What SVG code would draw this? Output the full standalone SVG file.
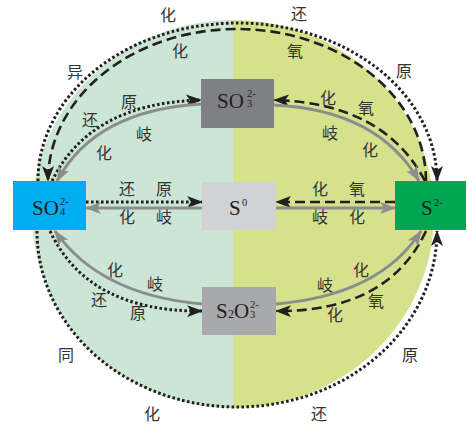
<svg xmlns="http://www.w3.org/2000/svg" width="467" height="427" viewBox="0 0 467 427">
<style>
.lbl{font-family:"Noto Sans CJK SC","Noto Sans CJK JP",sans-serif;font-size:16px;fill:#333;text-anchor:middle}
.chem{font-family:"Liberation Serif",serif;fill:#231f20}
.big{font-size:21px}
.sm{font-size:10.5px}
.dot{fill:none;stroke:#231f20;stroke-width:3;stroke-dasharray:2.6 2.4}
.dash{fill:none;stroke:#231f20;stroke-width:2.6;stroke-dasharray:10 5}
.gray{fill:none;stroke:#8b8c8e;stroke-width:3}
</style>
<defs>
<marker id="ab" markerUnits="userSpaceOnUse" viewBox="0 0 16 12" refX="15" refY="6" markerWidth="16" markerHeight="12" orient="auto">
<path d="M0,0 L16,6 L0,12 L4,6 Z" fill="#231f20"/>
</marker>
<marker id="ag" markerUnits="userSpaceOnUse" viewBox="0 0 16 12" refX="15" refY="6" markerWidth="16" markerHeight="12" orient="auto">
<path d="M0,0 L16,6 L0,12 L4,6 Z" fill="#8b8c8e"/>
</marker>
</defs>
<g id="background">
<path d="M233,20 A201,194 0 0 0 233,408 Z" fill="#cce6d6"/>
<path d="M233,20 A201,194 0 1 1 233,408 Z" fill="#d5e28b"/>
</g>
<g id="connectors">
<path class="dot" d="M38,181 A199.5,158 0 0 1 437,181" marker-end="url(#ab)"/>
<path class="dash" d="M426,181 A189,152 0 0 0 48,181" marker-end="url(#ab)"/>
<path class="dot" d="M37,231 A200,176 0 0 0 437,231" marker-end="url(#ab)"/>
<path class="dot" d="M52,181 Q90,103 201,100" marker-end="url(#ab)"/>
<path class="gray" d="M202,104 Q95,110 57,181" marker-end="url(#ag)"/>
<path class="dash" d="M425,181 Q384,103 274,100" marker-end="url(#ab)"/>
<path class="gray" d="M274,105 Q378,110 419,181" marker-end="url(#ag)"/>
<path class="dot" d="M86,202 L202,202" marker-end="url(#ab)"/>
<path class="gray" d="M202,208 L86,208" marker-end="url(#ag)"/>
<path class="dash" d="M395,202 L276,202" marker-end="url(#ab)"/>
<path class="gray" d="M276,208 L395,208" marker-end="url(#ag)"/>
<path class="dot" d="M50,231 Q88,312 202,311" marker-end="url(#ab)"/>
<path class="gray" d="M202,304 Q100,295 55,231" marker-end="url(#ag)"/>
<path class="dash" d="M426,231 Q388,312 276,311" marker-end="url(#ab)"/>
<path class="gray" d="M276,304 Q380,295 421,231" marker-end="url(#ag)"/>
</g>
<g id="labels">
<text class="lbl" x="168" y="21">化</text>
<text class="lbl" x="299" y="20">还</text>
<text class="lbl" x="75" y="78">异</text>
<text class="lbl" x="404" y="77">原</text>
<text class="lbl" x="180" y="57">化</text>
<text class="lbl" x="295" y="57">氧</text>
<text class="lbl" x="129" y="108">原</text>
<text class="lbl" x="90" y="126">还</text>
<text class="lbl" x="144" y="140">岐</text>
<text class="lbl" x="104" y="159">化</text>
<text class="lbl" x="328" y="104">化</text>
<text class="lbl" x="366" y="114">氧</text>
<text class="lbl" x="330" y="139">岐</text>
<text class="lbl" x="370" y="156">化</text>
<text class="lbl" x="127" y="195">还</text>
<text class="lbl" x="164" y="195">原</text>
<text class="lbl" x="127" y="223">化</text>
<text class="lbl" x="164" y="223">岐</text>
<text class="lbl" x="320" y="195">化</text>
<text class="lbl" x="357" y="195">氧</text>
<text class="lbl" x="320" y="223">岐</text>
<text class="lbl" x="357" y="223">化</text>
<text class="lbl" x="115" y="276">化</text>
<text class="lbl" x="155" y="290">岐</text>
<text class="lbl" x="99" y="306">还</text>
<text class="lbl" x="138" y="319">原</text>
<text class="lbl" x="361" y="276">化</text>
<text class="lbl" x="325" y="291">岐</text>
<text class="lbl" x="376" y="307">氧</text>
<text class="lbl" x="335" y="321">化</text>
<text class="lbl" x="66" y="361">同</text>
<text class="lbl" x="410" y="361">原</text>
<text class="lbl" x="152" y="420">化</text>
<text class="lbl" x="319" y="420">还</text>
</g>
<g id="node-SO3">
<rect x="201" y="79" width="73" height="49" fill="#7f8083"/>
<text class="chem big" x="217" y="108">SO</text>
<text class="chem sm" x="247" y="97">2-</text>
<text class="chem sm" x="247" y="107">3</text>
</g>
<g id="node-S0">
<rect x="202" y="182" width="74" height="48" fill="#d1d2d4"/>
<text class="chem big" x="229" y="215">S</text>
<text class="chem sm" x="242" y="206">0</text>
</g>
<g id="node-S2O3">
<rect x="202" y="287" width="74" height="48" fill="#a7a9ac"/>
<text class="chem big" x="216" y="318">S</text>
<text class="chem" style="font-size:12px" x="228" y="318">2</text>
<text class="chem big" x="234" y="318">O</text>
<text class="chem sm" x="250" y="308">2-</text>
<text class="chem sm" x="250" y="318">3</text>
</g>
<g id="node-SO4">
<rect x="13" y="181" width="73" height="49" fill="#00aeef"/>
<text class="chem big" x="32" y="215">SO</text>
<text class="chem sm" x="60" y="205">2-</text>
<text class="chem sm" x="60" y="215">4</text>
</g>
<g id="node-S2">
<rect x="395" y="181" width="71" height="49" fill="#00a651"/>
<text class="chem big" x="421" y="215">S</text>
<text class="chem sm" x="434" y="206">2-</text>
</g>
</svg>
